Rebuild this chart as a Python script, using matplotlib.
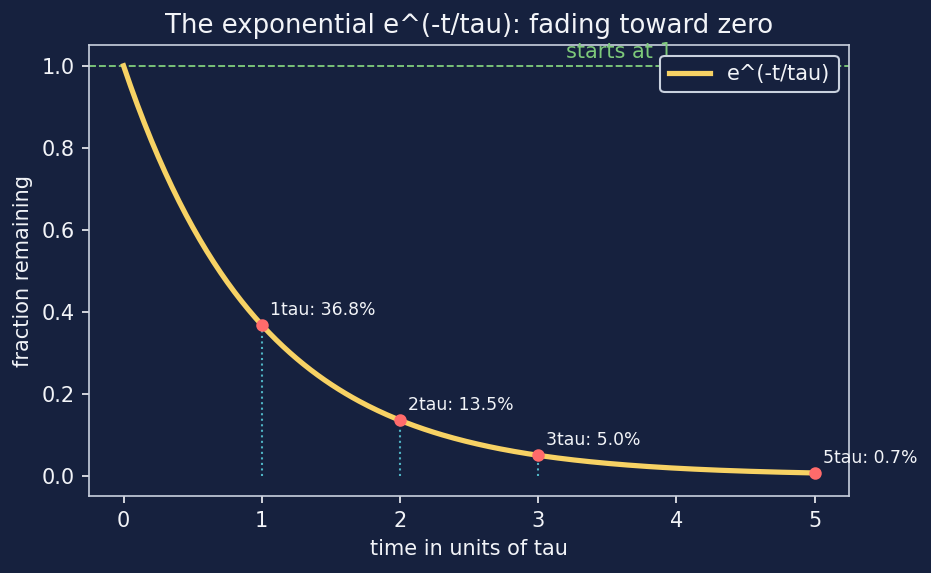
"""
Exponential decay chart: e^(-t/tau) with marked tau points
"""
import numpy as np
import matplotlib
matplotlib.use("Agg")
import matplotlib.pyplot as plt

# Data
t_max = 5
n_points = 300
mark_taus = [1, 2, 3, 5]
mark_labels = ["1tau: 36.8%", "2tau: 13.5%", "3tau: 5.0%", "5tau: 0.7%"]
drop_lines = [1, 2, 3]

BG = "#16213e"
FG = "#f2f4f8"
SPINE = "#c9d1de"
CURVE = "#f7d264"
MARK = "#ff6b6b"
DROP = "#4fb3c4"
GREEN = "#7dc97a"

t = np.linspace(0, t_max, n_points)
y = np.exp(-t)

fig, ax = plt.subplots(figsize=(9.31 / 1.5, 5.73 / 1.5), dpi=150)
fig.patch.set_facecolor(BG)
ax.set_facecolor(BG)

ax.axhline(1.0, color=GREEN, linestyle="--", linewidth=0.9)
ax.text(3.2, 1.008, "starts at 1", color=GREEN, fontsize=10, va="bottom")

ax.plot(t, y, color=CURVE, linewidth=2.5, label="e^(-t/tau)", zorder=3)

for k in drop_lines:
    ax.plot([k, k], [0, np.exp(-k)], color=DROP, linestyle=":", linewidth=1.0, zorder=2)

for k, lab in zip(mark_taus, mark_labels):
    val = np.exp(-k)
    ax.plot(k, val, "o", color=MARK, markersize=5, zorder=4)
    ax.annotate(lab, xy=(k, val), xytext=(4, 3), textcoords="offset points",
                color=FG, fontsize=8.3, va="bottom", ha="left")

ax.set_title("The exponential e^(-t/tau): fading toward zero", color=FG, fontsize=12.5)
ax.set_xlabel("time in units of tau", color=FG, fontsize=10)
ax.set_ylabel("fraction remaining", color=FG, fontsize=10)
ax.tick_params(colors=FG, labelsize=10)
for s in ax.spines.values():
    s.set_color(SPINE)

leg = ax.legend(loc="upper right", fontsize=10, facecolor=BG, edgecolor=SPINE,
                framealpha=1.0)
for txt in leg.get_texts():
    txt.set_color(FG)

fig.subplots_adjust(left=0.0956, right=0.912, top=0.921, bottom=0.134)
plt.savefig("out.png", dpi=150, facecolor=BG)
plt.close()
